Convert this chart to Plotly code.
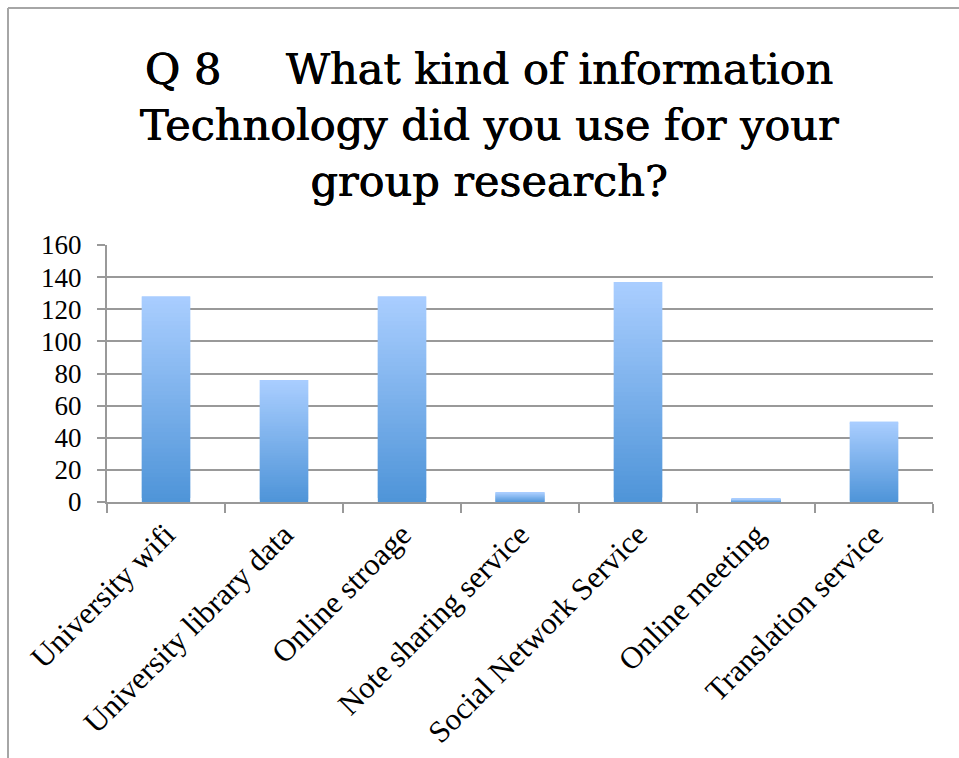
import plotly.graph_objects as go

# Survey answers: information technology used for group research
categories = [
    "University wifi",
    "University library data",
    "Online stroage",
    "Note sharing service",
    "Social Network Service",
    "Online meeting",
    "Translation service",
]
counts = [128, 76, 128, 6, 137, 2, 50]

y_tickvals = [0, 20, 40, 60, 80, 100, 120, 140, 160]

title_text = (
    "Q 8\u2003\u2002What kind of information<br>"
    "Technology did you use for your<br>"
    "group research?"
)

W, H = 959, 758
ML, MR, MT, MB = 107, 26, 245, 256

# vertical gradient for each bar: dark blue at the base, light blue at the top.
# Each bar is split into thin stacked slices that overlap slightly so no seams show.
BOTTOM_RGB = (78, 148, 216)
TOP_RGB = (170, 206, 255)
N_STEPS = 50

fig = go.Figure()
for k in range(N_STEPS):
    t = (k + 0.5) / N_STEPS
    rgb = tuple(round(b + (c - b) * t) for b, c in zip(BOTTOM_RGB, TOP_RGB))
    lo = k / N_STEPS
    hi = min((k + 2) / N_STEPS, 1.0)
    fig.add_trace(
        go.Bar(
            x=categories,
            y=[v * (hi - lo) for v in counts],
            base=[v * lo for v in counts],
            width=0.41,
            marker=dict(color="rgb(%d,%d,%d)" % rgb, line=dict(width=0)),
            hoverinfo="skip",
            showlegend=False,
        )
    )

# chart frame (left and top edges)
pw = W - ML - MR
ph = H - MT - MB
def px_x(p):
    return (p - ML) / pw
def px_y(p):
    return (H - MB - p) / ph

frame = dict(color="#a6a6a6", width=2)
fig.add_shape(type="line", xref="paper", yref="paper",
              x0=px_x(8), x1=px_x(W + 5), y0=px_y(8), y1=px_y(8), line=frame)
fig.add_shape(type="line", xref="paper", yref="paper",
              x0=px_x(8), x1=px_x(8), y0=px_y(8), y1=px_y(H + 5), line=frame)

fig.update_layout(
    width=W,
    height=H,
    margin=dict(l=ML, r=MR, t=MT, b=MB),
    paper_bgcolor="white",
    plot_bgcolor="white",
    barmode="overlay",
    title=dict(
        text=title_text,
        x=489 / W,
        xanchor="center",
        xref="container",
        y=1 - 84 / H,
        yanchor="top",
        yref="container",
        font=dict(
            family="DejaVu Serif",
            size=43,
            color="black",
            # slightly heavier strokes for the heading
            shadow="0.7px 0 0 black, 0 0.4px 0 black",
        ),
    ),
    font=dict(family="Liberation Serif", color="black"),
)

fig.update_xaxes(
    type="category",
    automargin=False,
    tickangle=-45,
    tickfont=dict(family="Liberation Serif", size=31, color="black"),
    showline=True,
    linecolor="#999999",
    linewidth=2,
    ticks="outside",
    tickson="boundaries",
    ticklen=9,
    tickwidth=2,
    tickcolor="#999999",
    showgrid=False,
    range=[-0.5, len(categories) - 0.5],
)

fig.update_yaxes(
    automargin=False,
    range=[0, 160],
    tickvals=y_tickvals,
    tickfont=dict(family="Liberation Serif", size=27, color="black"),
    showline=True,
    linecolor="#999999",
    linewidth=2,
    ticks="outside",
    ticklen=8,
    tickwidth=2,
    tickcolor="#999999",
    showgrid=True,
    gridcolor="#999999",
    gridwidth=2,
    zeroline=False,
    ticklabelstandoff=10,
)

fig.write_html("out.html")
